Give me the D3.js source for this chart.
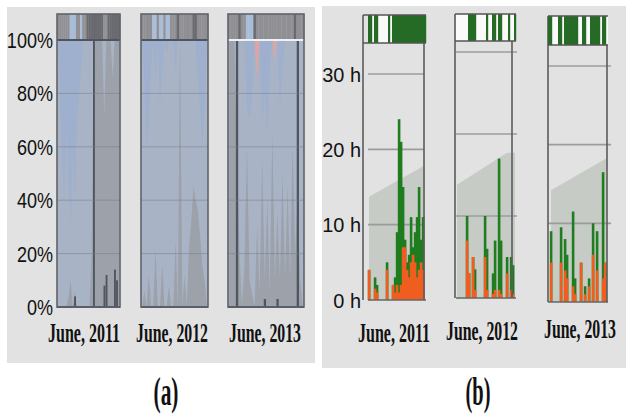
<!DOCTYPE html>
<html><head><meta charset="utf-8">
<script src="https://cdn.jsdelivr.net/npm/d3@7"></script>
<style>html,body{margin:0;padding:0;background:#fff;} svg{display:block;}</style>
</head><body>
<svg id="c" width="626" height="414"></svg>
<script>
// ================= DATA =================
const yearLabels = ["June, 2011", "June, 2012", "June, 2013"];
const panelLabels = ["(a)", "(b)"];
const pctTicks = [0, 20, 40, 60, 80, 100];
const pctTickLabels = ["0%", "20%", "40%", "60%", "80%", "100%"];
const hourTicks = [0, 10, 20, 30];
const hourTickLabels = ["0 h", "10 h", "20 h", "30 h"];

// panel (a) header day codes: 0 gray, 1 light blue, 2 dark
const headerA2011 = [0,0,0,0,0,0,1,1,1,0,0,1,0,0,2,2,2,2,2,2,2,2,0,0,2,2,2,2,2,2];
const headerA2012 = [0,0,0,0,0,1,1,0,1,1,0,1,1,0,0,0,2,0,0,0,0,0,0,2,2,0,0,0,0,0];
const headerA2013 = [0,0,0,0,2,0,0,1,1,1,2,0,0,0,0,0,0,0,0,0,0,0,0,0,0,0,2,0,0,0];
// panel (a) daily shares (%)
const midA2011  = [0,0,0,0,0,4,10,0,6,0,0,0,0,0,0,0,20,100,100,100,100,100,72,100,100,100,86,100,100,100];
const darkA2011 = [0,0,0,0,0,0,0,0,4,0,0,0,0,0,0,0,0,100,0,0,0,0,8,12,0,0,0,14,10,0];
const blueA2011 = [0,20,45,60,30,55,70,40,60,30,20,10,0,0,0,0,0,0,0,0,0,0,0,0,0,0,0,0,0,0];
const redA2011  = [0,0,0,0,0,0,0,0,0,0,0,0,0,0,0,0,0,0,0,0,0,0,0,0,0,0,0,0,0,0];
const midA2012  = [0,6,0,12,0,0,22,0,0,16,0,0,8,0,0,25,0,100,0,12,0,22,32,45,40,36,26,15,10,0];
const darkA2012 = [0,0,0,0,0,0,0,0,0,0,0,0,0,0,0,0,0,0,0,0,0,0,0,0,0,0,0,0,0,0];
const blueA2012 = [0,15,40,30,10,0,15,0,25,10,0,5,0,0,0,12,0,0,0,0,0,0,0,0,0,15,25,40,25,0];
const redA2012  = [0,0,0,0,0,0,0,0,0,0,0,0,0,0,0,0,0,0,0,0,0,0,0,0,0,0,0,0,0,0];
const midA2013  = [100,100,100,60,20,0,15,60,10,5,0,30,5,55,10,40,5,65,10,35,10,50,10,45,10,60,20,40,10,0];
const darkA2013 = [0,0,0,100,0,0,0,0,0,0,0,0,0,0,3,0,0,0,0,3,0,0,0,0,0,0,0,100,0,0];
const blueA2013 = [0,0,0,0,0,0,0,25,30,20,0,0,0,30,20,35,10,0,0,0,25,10,0,0,0,0,0,0,0,0];
const redA2013  = [0,0,0,0,0,0,0,0,0,0,0,15,0,0,0,0,0,0,8,0,0,0,0,0,0,0,0,0,0,0];

// panel (b) header day flags (1 = active)
const headerB2011 = [1,1,0,1,1,0,0,0,0,0,1,0,1,1,1,1,1,1,1,1,1,1,1,1,1,1,1,1,1];
const headerB2012 = [0,0,0,0,0,0,1,1,1,1,0,0,0,0,0,1,0,0,1,1,0,1,1,0,0,0,1,0,0,1];
const headerB2013 = [1,1,0,0,0,1,1,0,1,1,1,1,1,1,1,0,0,1,1,0,0,1,1,1,1,1,0,1,1,0];
// panel (b) daily hours: total (green top) and orange part
const total2011  = [4,0,0,3,2,0,0,0,0,5,0,0,2,3,9,24,21,15,8,5,6,11,7,9,11,15,8,11,0];
const orange2011 = [4,0,0,1.5,1,0,0,0,0,4,0,0,2,1,2,1,2,7,7,4,3,5,6,5,3,4,5,4,0];
const total2012  = [0,0,0,0,0,10,3,0,5,3.5,0,0,0,0,10,6,0,0,3,7,0,17,7,0,0,5,0,5,4,0];
const orange2012 = [0,0,0,0,0,7,3,0,5,1,0,0,0,0,5,1,0,0,0.5,1,0,1,0.5,0,0,3,0,1,0.5,0];
const total2013  = [0,9,0,0,0,0,9.5,0,8,6,0,0,11.5,3,0,0,5,0,2,0,3,0,10,0,9,0,0,16.5,5,0];
const orange2013 = [0,5,0,0,0,0,5,0,4,3,0,0,2,1,0,0,5,0,1,0,2,0,6,0,4,0,0,3,5,0];
// panel (b) background envelope [day, hours]
const env2011 = [[0,13.7],[28,17.9]];
const env2012 = [[0,13.8],[25,17.7],[29,17.7]];
const env2013 = [[1,14.2],[29,18.3]];

// ================= DRAW =================
const svg = d3.select("#c");
svg.append("rect").attr("width",626).attr("height",414).attr("fill","#fff");
svg.append("rect").attr("x",7).attr("y",7).attr("width",308).attr("height",356).attr("fill","#e2e2e2");
svg.append("rect").attr("x",322).attr("y",6).attr("width",304).attr("height",362).attr("fill","#e2e2e2");

function fitText(sel, cx, y, width) {
  sel.each(function() {
    const w = this.getComputedTextLength();
    d3.select(this).attr("transform", `translate(${cx},${y}) scale(${width / w},1)`);
  });
}

// ---------- panel (a) ----------
const yA = d3.scaleLinear().domain([0,100]).range([307,40]);
const colsA = [
  {x0:57, x1:120, header:headerA2011, mid:midA2011, dark:darkA2011, blue:blueA2011, red:redA2011, top:"#4e5560"},
  {x0:141,x1:208, header:headerA2012, mid:midA2012, dark:darkA2012, blue:blueA2012, red:redA2012, top:"#4e5560"},
  {x0:228,x1:304, header:headerA2013, mid:midA2013, dark:darkA2013, blue:blueA2013, red:redA2013, top:"#eef2f7"}
];
const hdrColA = ["#8f8f94","#aabdd8","#6a6a71"];
const labelCentersA = [84, 172, 265];
colsA.forEach((c,ci) => {
  const g = svg.append("g");
  const xs = d3.scaleBand().domain(d3.range(c.header.length)).range([c.x0,c.x1]);
  const bw = xs.bandwidth();
  const cx = i => xs(i) + bw/2;
  g.selectAll(null).data(c.header).join("rect")
    .attr("x",(d,i)=>xs(i)).attr("width",bw+0.3).attr("y",14).attr("height",26)
    .attr("fill",d=>hdrColA[d]);
  g.append("rect").attr("x",c.x0).attr("y",yA(100)).attr("width",c.x1-c.x0).attr("height",yA(0)-yA(100)).attr("fill","#a8b3c6");
  g.append("path").datum(c.blue)
    .attr("d", d3.area().x((d,i)=>cx(i)).y0(yA(100)).y1(d=>yA(100-d)))
    .attr("fill","#94aed6").attr("opacity",0.5);
  g.append("path").datum(c.red)
    .attr("d", d3.area().x((d,i)=>cx(i)).y0(yA(100)).y1(d=>yA(100-d)))
    .attr("fill","#e6a3a0").attr("opacity",0.8);
  g.append("path").datum(c.mid)
    .attr("d", d3.area().x((d,i)=>cx(i)).y0(yA(0)).y1(d=>yA(d)))
    .attr("fill","#9ca1aa");
  g.selectAll(null).data(c.dark).join("rect")
    .attr("x",(d,i)=>xs(i)+0.3).attr("width",bw*0.9).attr("y",d=>yA(d)).attr("height",d=>yA(0)-yA(d))
    .attr("fill","#50565e");
  g.selectAll(null).data(pctTicks.filter(t=>t>0&&t<100)).join("line")
    .attr("x1",c.x0).attr("x2",c.x1).attr("y1",d=>yA(d)).attr("y2",d=>yA(d))
    .attr("stroke","#7a818c").attr("stroke-width",1).attr("opacity",0.55);
  g.append("line").attr("x1",c.x0).attr("x2",c.x1).attr("y1",yA(100)).attr("y2",yA(100))
    .attr("stroke",c.top).attr("stroke-width",2);
  g.append("rect").attr("x",c.x0).attr("y",14).attr("width",c.x1-c.x0).attr("height",yA(0)-14)
    .attr("fill","none").attr("stroke","#5f636a").attr("stroke-width",1.6);
  g.append("line").attr("x1",c.x0).attr("x2",c.x1).attr("y1",yA(0)).attr("y2",yA(0))
    .attr("stroke","#5a5e66").attr("stroke-width",2);
  const t = g.append("text").attr("text-anchor","middle")
    .attr("font-family","Liberation Serif, serif").attr("font-weight","bold").attr("font-size",27)
    .attr("fill","#111").text(yearLabels[ci]);
  fitText(t, labelCentersA[ci], 342, 72);
});
svg.append("g").selectAll("text").data(pctTicks).join("text")
  .attr("transform",d=>`translate(53,${yA(d)}) scale(0.82,1)`)
  .attr("dy","0.36em").attr("text-anchor","end")
  .attr("font-family","Liberation Sans, Arial, sans-serif").attr("font-size",22).attr("fill","#111")
  .text((d,i)=>pctTickLabels[i]);

// ---------- panel (b) ----------
const colsB = [
  {x0:368, y0:300, y30:74, hTop:15, hBot:43, axisX:363, rightX:424, rightTop:43, header:headerB2011, total:total2011, orange:orange2011, env:env2011, gx1:424, labelY:342},
  {x0:456, y0:298, y30:52, hTop:14, hBot:41, axisX:455, rightX:512, rightTop:14, header:headerB2012, total:total2012, orange:orange2012, env:env2012, gx1:517, labelY:340},
  {x0:548, y0:302, y30:66, hTop:16, hBot:45, axisX:548, rightX:607, rightTop:45, header:headerB2013, total:total2013, orange:orange2013, env:env2013, gx1:611, labelY:338}
];
const labelCentersB = [394, 482, 580];
colsB.forEach((c,ci) => {
  const g = svg.append("g");
  const n = c.header.length;
  const xs = d3.scaleBand().domain(d3.range(n)).range([c.x0, c.x0 + n*2]);
  const xl = d3.scaleLinear().domain([0,n-1]).range([c.x0+1, c.x0 + n*2 - 1]);
  const y = d3.scaleLinear().domain([0,30]).range([c.y0, c.y30]);
  const x1 = c.x0 + n*2;
  g.append("path").datum(c.env)
    .attr("d", d3.area().x(d=>xl(d[0])).y0(y(0)).y1(d=>y(d[1])))
    .attr("fill","#c6cbc6");
  g.selectAll(null).data(hourTicks.filter(t=>t>0)).join("line")
    .attr("x1",c.x0).attr("x2",c.gx1).attr("y1",d=>y(d)).attr("y2",d=>y(d))
    .attr("stroke","#9c9c9c").attr("stroke-width",1.6);
  g.selectAll(null).data(c.total).join("rect")
    .attr("x",(d,i)=>xs(i)-0.2).attr("width",2.6).attr("y",d=>y(d)).attr("height",d=>y(0)-y(d))
    .attr("fill","#1f7c1f");
  g.selectAll(null).data(c.orange).join("rect")
    .attr("x",(d,i)=>xs(i)-0.2).attr("width",2.6).attr("y",d=>y(d)).attr("height",d=>y(0)-y(d))
    .attr("fill","#ef5e1e");
  g.append("line").attr("x1",c.x0).attr("x2",x1).attr("y1",y(0)).attr("y2",y(0))
    .attr("stroke","#666").attr("stroke-width",1.5);
  g.append("line").attr("x1",c.axisX).attr("x2",c.axisX).attr("y1",c.hTop).attr("y2",y(0))
    .attr("stroke","#5c5c5c").attr("stroke-width",1.6);
  g.append("line").attr("x1",c.rightX).attr("x2",c.rightX).attr("y1",c.rightTop).attr("y2",y(0))
    .attr("stroke","#5c5c5c").attr("stroke-width",1.6);
  g.append("rect").attr("x",c.x0).attr("y",c.hTop).attr("width",x1-c.x0).attr("height",c.hBot-c.hTop).attr("fill","#fafafa");
  g.selectAll(null).data(c.header).join("rect")
    .attr("x",(d,i)=>xs(i)).attr("width",d=>d?2.2:0).attr("y",c.hTop).attr("height",c.hBot-c.hTop)
    .attr("fill","#256b25");
  g.append("line").attr("x1",c.axisX).attr("x2",x1).attr("y1",c.hTop).attr("y2",c.hTop).attr("stroke","#555").attr("stroke-width",1.5);
  g.append("line").attr("x1",c.axisX).attr("x2",x1).attr("y1",c.hBot).attr("y2",c.hBot).attr("stroke","#555").attr("stroke-width",1.5);
  const t = g.append("text").attr("text-anchor","middle")
    .attr("font-family","Liberation Serif, serif").attr("font-weight","bold").attr("font-size",27)
    .attr("fill","#111").text(yearLabels[ci]);
  fitText(t, labelCentersB[ci], c.labelY, 72);
  if (ci === 0) {
    g.selectAll("text.h").data(hourTicks).join("text").attr("class","h")
      .attr("transform",d=>`translate(361,${y(d)}) scale(0.95,1)`)
      .attr("dy","0.36em").attr("text-anchor","end")
      .attr("font-family","Liberation Sans, Arial, sans-serif").attr("font-size",21).attr("fill","#111")
      .text((d,i)=>hourTickLabels[i]);
  }
});

// panel captions
svg.selectAll("text.cap").data(panelLabels).join("text").attr("class","cap")
  .attr("text-anchor","middle")
  .attr("font-family","Liberation Serif, serif").attr("font-weight","bold").attr("font-size",40).attr("fill","#111")
  .text(d=>d)
  .each(function(d,i){ fitText(d3.select(this), [166,478][i], 405, 25); });
</script>
</body></html>
